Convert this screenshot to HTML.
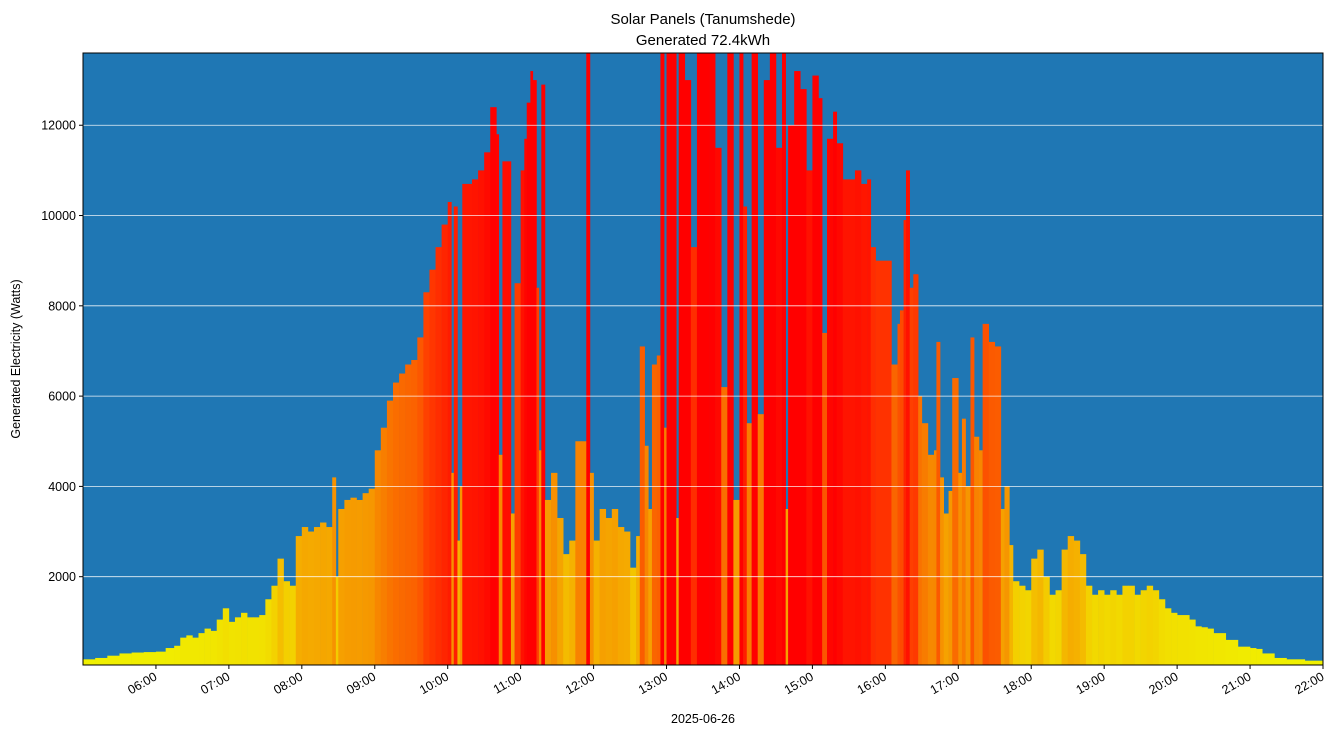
<!DOCTYPE html>
<html><head><meta charset="utf-8"><style>
body{margin:0;background:#fff;font-family:"Liberation Sans","DejaVu Sans",sans-serif}
svg text{font-family:"Liberation Sans","DejaVu Sans",sans-serif}
</style></head><body>
<svg id="chart" width="1333" height="736" xmlns="http://www.w3.org/2000/svg">
<text x="703" y="24" font-size="15" text-anchor="middle">Solar Panels (Tanumshede)</text>
<text x="703" y="45" font-size="15" text-anchor="middle">Generated 72.4kWh</text>
<rect x="83" y="53" width="1240" height="612" fill="#1f77b4"/>
<g id="bars"></g>
<g id="grid"></g>
<g id="yaxis"></g>
<g id="xaxis"></g>
<rect x="83" y="53" width="1240" height="612" fill="none" stroke="#000" stroke-width="1"/>
<text transform="translate(20,359) rotate(-90)" font-size="12.5" text-anchor="middle">Generated Electricity (Watts)</text>
<text x="703" y="723" font-size="12.5" text-anchor="middle">2025-06-26</text>
</svg>
<script>
const times=["05:00","05:10","05:20","05:30","05:40","05:50","06:00","06:08","06:15","06:20","06:25","06:30","06:35","06:40","06:45","06:50","06:55","07:00","07:05","07:10","07:15","07:20","07:25","07:30","07:35","07:40","07:45","07:50","07:55","08:00","08:05","08:10","08:15","08:20","08:25","08:28","08:30","08:35","08:40","08:45","08:50","08:55","09:00","09:05","09:10","09:15","09:20","09:25","09:30","09:35","09:40","09:45","09:50","09:55","10:00","10:03","10:05","10:08","10:10","10:12","10:15","10:20","10:25","10:30","10:35","10:40","10:42","10:45","10:50","10:52","10:55","11:00","11:03","11:05","11:08","11:10","11:13","11:15","11:17","11:20","11:25","11:30","11:35","11:40","11:45","11:50","11:54","11:57","12:00","12:05","12:10","12:15","12:20","12:25","12:30","12:35","12:38","12:42","12:45","12:48","12:52","12:55","12:58","13:00","13:05","13:08","13:10","13:15","13:20","13:25","13:30","13:35","13:40","13:45","13:50","13:55","14:00","14:03","14:06","14:10","14:15","14:20","14:25","14:30","14:35","14:38","14:40","14:45","14:50","14:55","15:00","15:05","15:08","15:12","15:17","15:20","15:25","15:30","15:35","15:40","15:45","15:48","15:52","16:00","16:05","16:10","16:12","16:15","16:17","16:20","16:23","16:27","16:30","16:35","16:40","16:42","16:45","16:48","16:52","16:55","17:00","17:03","17:06","17:10","17:13","17:17","17:20","17:25","17:30","17:35","17:38","17:42","17:45","17:50","17:55","18:00","18:05","18:10","18:15","18:20","18:25","18:30","18:35","18:40","18:45","18:50","18:55","19:00","19:05","19:10","19:15","19:20","19:25","19:30","19:35","19:40","19:45","19:50","19:55","20:00","20:10","20:15","20:20","20:25","20:30","20:40","20:50","21:00","21:05","21:10","21:20","21:30","21:45"];
const watts=[170,200,250,300,320,330,340,420,470,650,700,650,750,850,800,1050,1300,1000,1100,1200,1100,1100,1150,1500,1800,2400,1900,1800,2900,3100,3000,3100,3200,3100,4200,2000,3500,3700,3750,3700,3850,3950,4800,5300,5900,6300,6500,6700,6800,7300,8300,8800,9300,9800,10300,4300,10200,2800,4000,10700,10700,10800,11000,11400,12400,11800,4700,11200,11200,3400,8500,11000,11700,12500,13200,13000,8400,4800,12900,3700,4300,3300,2500,2800,5000,5000,13600,4300,2800,3500,3300,3500,3100,3000,2200,2900,7100,4900,3500,6700,6900,13600,5300,13600,13600,3300,13600,13000,9300,13600,13600,13600,11500,6200,13600,3700,13600,10200,5400,13600,5600,13000,13600,11500,13600,3500,12000,13200,12800,11000,13100,12600,7400,11700,12300,11600,10800,10800,11000,10700,10800,9300,9000,9000,6700,7600,7900,9900,11000,8400,8700,6000,5400,4700,4800,7200,4200,3400,3900,6400,4300,5500,4000,7300,5100,4800,7600,7200,7100,3500,4000,2700,1900,1800,1700,2400,2600,2000,1600,1700,2600,2900,2800,2500,1800,1600,1700,1600,1700,1600,1800,1800,1600,1700,1800,1700,1500,1300,1200,1150,1050,900,880,850,750,600,450,420,400,300,200,170,140];
const yTicks=[2000,4000,6000,8000,10000,12000];
const xTicks=["06:00","07:00","08:00","09:00","10:00","11:00","12:00","13:00","14:00","15:00","16:00","17:00","18:00","19:00","20:00","21:00","22:00"];
const NS="http://www.w3.org/2000/svg";
const X0=83,X1=1323,Y0=665,Y1=53,TMIN=300,TMAX=1320,VMIN=44,VMAX=13600;
function mins(s){const p=s.split(":");return +p[0]*60+ +p[1];}
function xs(t){return X0+(t-TMIN)/(TMAX-TMIN)*(X1-X0);}
function ys(v){v=Math.min(v,VMAX);return Y0-(v-VMIN)/(VMAX-VMIN)*(Y0-Y1);}
const stops=[[0,[240,242,0]],[1500,[242,220,0]],[3000,[245,170,0]],[4500,[247,140,0]],[6500,[250,105,0]],[9000,[255,50,0]],[12000,[255,0,0]]];
function col(v){for(let i=1;i<stops.length;i++){if(v<=stops[i][0]){const a=stops[i-1],b=stops[i],f=(v-a[0])/(b[0]-a[0]);return "rgb("+a[1].map((c,k)=>Math.round(c+(b[1][k]-c)*f)).join(",")+")";}}return "rgb(255,0,0)";}
function mk(tag,attrs,parent){const e=document.createElementNS(NS,tag);for(const k in attrs)e.setAttribute(k,attrs[k]);parent.appendChild(e);return e;}
const gb=document.getElementById("bars");
for(let i=0;i<times.length;i++){
 const t0=mins(times[i]),t1=i+1<times.length?mins(times[i+1]):TMAX;
 const xa=xs(t0),xb=xs(t1),y=ys(watts[i]);
 const r=mk("rect",{x:xa.toFixed(2),y:y.toFixed(2),width:(xb-xa+0.3).toFixed(2),height:(Y0-y).toFixed(2),fill:col(watts[i])},gb);
 
 
}
const gg=document.getElementById("grid"),gy=document.getElementById("yaxis"),gx=document.getElementById("xaxis");
yTicks.forEach(v=>{const y=ys(v);
 const l=mk("line",{x1:X0,x2:X1,y1:y,y2:y,stroke:"#fff","stroke-width":0.8,opacity:0.9},gg);
 
 
 mk("line",{x1:X0-4,x2:X0,y1:y,y2:y,stroke:"#000"},gy);
 const t=mk("text",{x:X0-7,y:y+4.5,"font-size":12.5,"text-anchor":"end"},gy);t.textContent=v;
 
 
});
xTicks.forEach(s=>{const x=xs(mins(s));
 mk("line",{x1:x,x2:x,y1:Y0,y2:Y0+4,stroke:"#000"},gx);
 const t=mk("text",{transform:"translate("+(x+2)+","+(Y0+14)+") rotate(-30)","font-size":12.5,"text-anchor":"end"},gx);t.textContent=s;
 
 
});
</script>
</body></html>
